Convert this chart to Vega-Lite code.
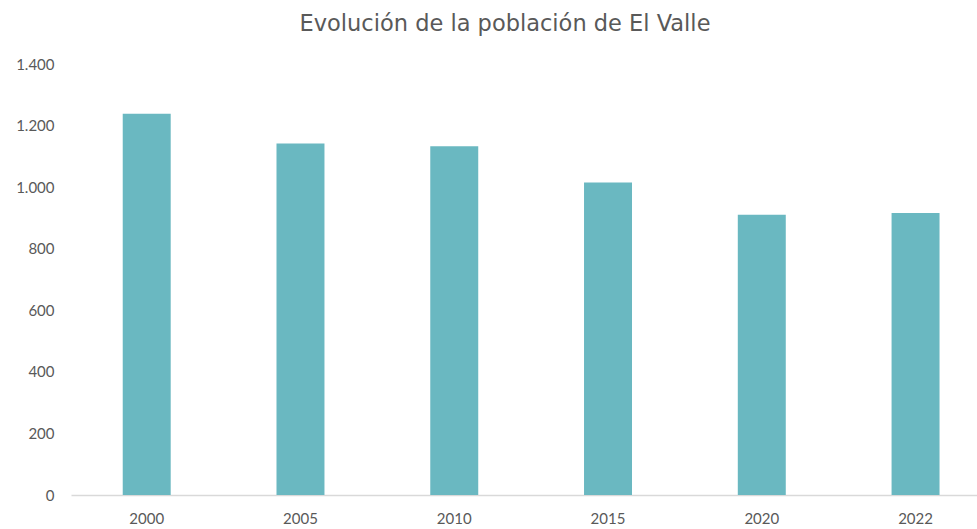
{
  "$schema": "https://vega.github.io/schema/vega-lite/v6.json",
  "autosize": "none",
  "width": 906,
  "height": 431,
  "padding": {"left": 71, "top": 64, "right": 0, "bottom": 34},
  "background": "white",
  "title": {
    "text": "Evolución de la población de El Valle",
    "font": "DejaVu Sans",
    "fontSize": 22.5,
    "fontWeight": "normal",
    "color": "#595959",
    "anchor": "middle",
    "frame": "group",
    "dx": -19,
    "offset": 22
  },
  "data": {
    "values": [
      {"year": "2000", "pop": 1238},
      {"year": "2005", "pop": 1142},
      {"year": "2010", "pop": 1133},
      {"year": "2015", "pop": 1015},
      {"year": "2020", "pop": 910},
      {"year": "2022", "pop": 916}
    ]
  },
  "mark": {"type": "bar", "color": "#6AB8C1"},
  "encoding": {
    "x": {
      "field": "year",
      "type": "nominal",
      "sort": null,
      "scale": {"paddingInner": 0.688, "paddingOuter": 0.29, "align": 0.58},
      "axis": {
        "title": null,
        "labelAngle": 0,
        "ticks": false,
        "domainColor": "#D9D9D9",
        "domainWidth": 1.5,
        "labelFont": "Lato",
        "labelFontSize": 15,
        "labelColor": "#595959",
        "labelPadding": 16,
        "grid": false
      }
    },
    "y": {
      "field": "pop",
      "type": "quantitative",
      "scale": {"domain": [0, 1400]},
      "axis": {
        "title": null,
        "values": [0, 200, 400, 600, 800, 1000, 1200, 1400],
        "labelExpr": "replace(format(datum.value, ','), ',', '.')",
        "domain": false,
        "ticks": false,
        "grid": false,
        "labelFont": "Lato",
        "labelFontSize": 15,
        "labelColor": "#595959",
        "labelPadding": 17
      }
    }
  },
  "config": {"view": {"stroke": null}}
}
